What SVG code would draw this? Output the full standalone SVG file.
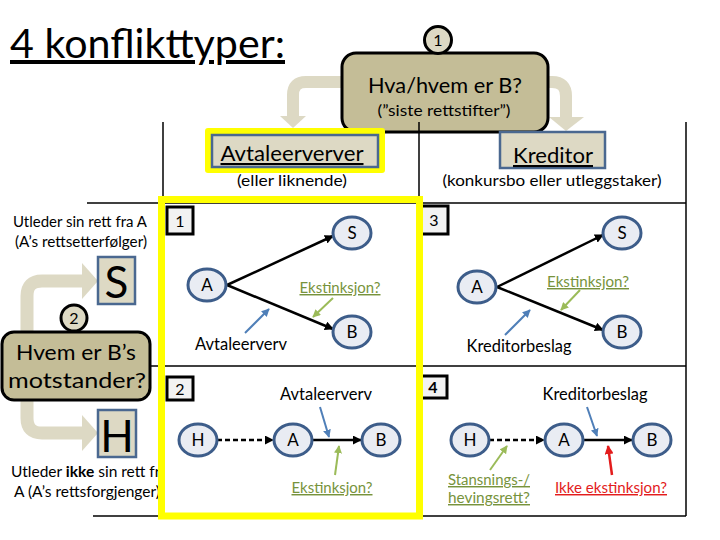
<svg xmlns="http://www.w3.org/2000/svg" width="720" height="540" viewBox="0 0 720 540">
<defs>
<style>
text{font-family:Lato,"Liberation Sans",sans-serif;fill:#000}
.u{text-decoration:underline}
.grid{stroke:#000;stroke-width:1.5;fill:none}
.band{fill:none;stroke:#ddd9c4;stroke-width:12}
.head{fill:#ddd9c4}
.tan{fill:#c4bd97;stroke:#000;stroke-width:3}
.lbox{fill:#ddd9c4;stroke:#4a6890;stroke-width:2.5}
.num{fill:#f2f2f2;stroke:#000;stroke-width:3}
.node{fill:#e9ecf3;stroke:#3d5d8a;stroke-width:3}
.nt{font-size:17px;text-anchor:middle}
.edge{stroke:#000;stroke-width:2.5;fill:none;marker-end:url(#ah)}
.dash{stroke-dasharray:5 3}
.ga{stroke:#9bbb59;stroke-width:2;marker-end:url(#ag)}
.ba{stroke:#4f7fb8;stroke-width:2;marker-end:url(#ab)}
.ra{stroke:#e31c1c;stroke-width:2.5;marker-end:url(#ar)}
.green{fill:#77933c}
.red{fill:#e31c1c}
.s14{font-size:14.5px}
.mid{text-anchor:middle}
</style>
<marker id="ah" viewBox="0 0 10 10" refX="9" refY="5" markerWidth="3.6" markerHeight="3.6" orient="auto"><path d="M0,0L10,5L0,10z" fill="#000"/></marker>
<marker id="ag" viewBox="0 0 10 10" refX="9" refY="5" markerWidth="4" markerHeight="4" orient="auto"><path d="M0,0L10,5L0,10z" fill="#9bbb59"/></marker>
<marker id="ab" viewBox="0 0 10 10" refX="9" refY="5" markerWidth="4" markerHeight="4" orient="auto"><path d="M0,0L10,5L0,10z" fill="#4f7fb8"/></marker>
<marker id="ar" viewBox="0 0 10 10" refX="9" refY="5" markerWidth="3.6" markerHeight="3.6" orient="auto"><path d="M0,0L10,5L0,10z" fill="#e31c1c"/></marker>
<clipPath id="leftclip"><rect x="0" y="0" width="160" height="540"/></clipPath>
</defs>

<g id="title"><text x="10" y="58" font-size="40" textLength="275" lengthAdjust="spacingAndGlyphs" class="u">4 konflikttyper:</text></g>

<g id="bands">
<path class="band" d="M350,82 H306 Q293,82 293,95 V117"/>
<polygon class="head" points="280,116 306,116 293,128"/>
<path class="band" d="M540,82 H552 Q566,82 566,96 V118"/>
<polygon class="head" points="549,117 584,117 566,131"/>
<path class="band" style="stroke-width:13" d="M27,335 V296 Q27,281 42,281 H84"/>
<polygon class="head" points="82,263 98,281 82,299"/>
<path class="band" style="stroke-width:13" d="M27,398 V418 Q27,433 42,433 H84"/>
<polygon class="head" points="82,415 98,433 82,451"/>
</g>

<g id="q-hva">
<rect class="tan" x="342" y="53" width="206" height="79" rx="14"/>
<text x="445" y="93" font-size="21" class="mid" textLength="154" lengthAdjust="spacingAndGlyphs">Hva/hvem er B?</text>
<text x="444" y="116" class="s14 mid" textLength="133" lengthAdjust="spacingAndGlyphs">(”siste rettstifter”)</text>
</g>
<g id="c1">
<circle cx="438" cy="40" r="13.5" fill="#ddd9c4" stroke="#000" stroke-width="3"/>
<text x="438" y="46" font-size="16" class="mid">1</text>
</g>

<g id="avtaleerverver">
<rect x="205" y="128" width="180" height="45" rx="3" fill="#ffff00"/>
<rect class="lbox" x="212" y="135" width="166" height="32"/>
<text x="292" y="161" font-size="21" class="mid u" textLength="143" lengthAdjust="spacingAndGlyphs">Avtaleerverver</text>
<text x="292" y="186" class="s14 mid" textLength="110" lengthAdjust="spacingAndGlyphs">(eller liknende)</text>
</g>
<g id="kreditor">
<rect class="lbox" x="500" y="132" width="105" height="36"/>
<text x="553" y="163" font-size="21" class="mid u" textLength="80" lengthAdjust="spacingAndGlyphs">Kreditor</text>
<text x="552" y="186" class="s14 mid" textLength="219" lengthAdjust="spacingAndGlyphs">(konkursbo eller utleggstaker)</text>
</g>

<g id="left-texts">
<text x="13" y="227" class="s14" textLength="134" lengthAdjust="spacingAndGlyphs">Utleder sin rett fra A</text>
<text x="15" y="247" class="s14" textLength="132" lengthAdjust="spacingAndGlyphs">(A’s rettsetterfølger)</text>
<g clip-path="url(#leftclip)">
<text x="11" y="477" class="s14" textLength="157" lengthAdjust="spacingAndGlyphs">Utleder <tspan font-weight="bold">ikke</tspan> sin rett fra</text>
</g>
<text x="14" y="497" class="s14" textLength="146" lengthAdjust="spacingAndGlyphs">A (A’s rettsforgjenger)</text>
</g>

<g id="hvem">
<rect class="tan" x="2" y="332" width="148" height="68" rx="12"/>
<text x="76" y="360" font-size="21" class="mid" textLength="120" lengthAdjust="spacingAndGlyphs">Hvem er B’s</text>
<text x="77" y="388" font-size="21" class="mid" textLength="138" lengthAdjust="spacingAndGlyphs">motstander?</text>
</g>
<g id="c2">
<circle cx="74" cy="318" r="13" fill="#ddd9c4" stroke="#000" stroke-width="3"/>
<text x="74" y="324" font-size="16" class="mid">2</text>
</g>
<g id="boxS">
<rect class="lbox" x="98" y="257" width="37" height="47"/>
<text x="116.5" y="298" font-size="44" class="mid">S</text>
</g>
<g id="boxH">
<rect class="lbox" x="98" y="410" width="38" height="47"/>
<text x="117" y="452" font-size="44" class="mid">H</text>
</g>

<g id="grid">
<line class="grid" x1="163" y1="122" x2="163" y2="516"/>
<line class="grid" x1="419" y1="122" x2="419" y2="516"/>
<line class="grid" x1="686" y1="122" x2="686" y2="516"/>
<line class="grid" x1="87" y1="203" x2="686" y2="203"/>
<line class="grid" x1="150" y1="366" x2="686" y2="366"/>
<line class="grid" x1="93" y1="516" x2="686" y2="516"/>
</g>

<g id="numbers">
<rect class="num" x="167" y="207" width="26" height="27"/><text x="180" y="227" font-size="16" class="mid">1</text>
<rect class="num" x="167" y="377" width="26" height="23"/><text x="180" y="395" font-size="16" class="mid">2</text>
<rect class="num" x="420" y="206" width="28" height="28"/><text x="434" y="226" font-size="16" class="mid">3</text>
<rect class="num" x="420" y="376" width="27" height="22"/><text x="433" y="393" font-size="16" class="mid" font-weight="bold">4</text>
</g>

<g id="yellow-frame"><rect x="161.5" y="199.5" width="258" height="316.5" fill="none" stroke="#ffff00" stroke-width="7"/></g>

<g id="connectors">
<line class="edge" x1="227" y1="285" x2="333" y2="236"/>
<line class="edge" x1="227" y1="285" x2="333" y2="329"/>
<line class="edge" x1="497" y1="287" x2="603" y2="235"/>
<line class="edge" x1="497" y1="287" x2="603" y2="330"/>
<line class="edge dash" x1="217" y1="440" x2="273" y2="440"/>
<line class="edge" x1="312" y1="440" x2="361" y2="440"/>
<line class="edge dash" x1="489" y1="440" x2="544" y2="440"/>
<line class="edge" x1="583" y1="440" x2="632" y2="440"/>
<line class="ga" x1="333" y1="298" x2="313" y2="317"/>
<line class="ba" x1="245" y1="333" x2="269" y2="309"/>
<line class="ga" x1="580" y1="290" x2="561" y2="310"/>
<line class="ba" x1="505" y1="335" x2="530" y2="310"/>
<line class="ba" x1="320" y1="407" x2="329" y2="437"/>
<line class="ga" x1="335" y1="475" x2="339" y2="446"/>
<line class="ba" x1="587" y1="407" x2="597" y2="436"/>
<line class="ra" x1="612" y1="475" x2="608" y2="446"/>
<line class="ga" x1="490" y1="470" x2="507" y2="446"/>
</g>

<g id="q1">
<g id="q1-S"><ellipse class="node" cx="352" cy="233" rx="19" ry="16"/><text class="nt" x="352" y="239">S</text></g>
<g id="q1-A"><ellipse class="node" cx="207" cy="285" rx="19" ry="16"/><text class="nt" x="207" y="291">A</text></g>
<g id="q1-B"><ellipse class="node" cx="352" cy="332" rx="19" ry="16"/><text class="nt" x="352" y="338">B</text></g>
<text x="340" y="293" class="s14 mid u green" textLength="81" lengthAdjust="spacingAndGlyphs">Ekstinksjon?</text>
<text x="241" y="350" font-size="16.5" class="mid" textLength="92" lengthAdjust="spacingAndGlyphs">Avtaleerverv</text>
</g>

<g id="q3">
<g id="q3-S"><ellipse class="node" cx="622" cy="233" rx="19" ry="16"/><text class="nt" x="622" y="239">S</text></g>
<g id="q3-A"><ellipse class="node" cx="477" cy="287" rx="19" ry="16"/><text class="nt" x="477" y="293">A</text></g>
<g id="q3-B"><ellipse class="node" cx="622" cy="332" rx="19" ry="16"/><text class="nt" x="622" y="338">B</text></g>
<text x="588" y="287" class="s14 mid u green" textLength="82" lengthAdjust="spacingAndGlyphs">Ekstinksjon?</text>
<text x="519" y="352" font-size="16.5" class="mid" textLength="105" lengthAdjust="spacingAndGlyphs">Kreditorbeslag</text>
</g>

<g id="q2">
<g id="q2-H"><ellipse class="node" cx="198" cy="440" rx="19" ry="16"/><text class="nt" x="198" y="446">H</text></g>
<g id="q2-A"><ellipse class="node" cx="293" cy="440" rx="19" ry="16"/><text class="nt" x="293" y="446">A</text></g>
<g id="q2-B"><ellipse class="node" cx="381" cy="440" rx="19" ry="16"/><text class="nt" x="381" y="446">B</text></g>
<text x="326" y="400" font-size="16.5" class="mid" textLength="92" lengthAdjust="spacingAndGlyphs">Avtaleerverv</text>
<text x="332" y="493" class="s14 mid u green" textLength="81" lengthAdjust="spacingAndGlyphs">Ekstinksjon?</text>
</g>

<g id="q4">
<g id="q4-H"><ellipse class="node" cx="470" cy="440" rx="19" ry="16"/><text class="nt" x="470" y="446">H</text></g>
<g id="q4-A"><ellipse class="node" cx="564" cy="440" rx="19" ry="16"/><text class="nt" x="564" y="446">A</text></g>
<g id="q4-B"><ellipse class="node" cx="652" cy="440" rx="19" ry="16"/><text class="nt" x="652" y="446">B</text></g>
<text x="595" y="400" font-size="16.5" class="mid" textLength="105" lengthAdjust="spacingAndGlyphs">Kreditorbeslag</text>
<text x="489" y="485" class="s14 mid u green" textLength="82" lengthAdjust="spacingAndGlyphs">Stansnings-/</text>
<text x="489" y="503" class="s14 mid u green" textLength="82" lengthAdjust="spacingAndGlyphs">hevingsrett?</text>
<text x="611" y="493" class="s14 mid u red" textLength="112" lengthAdjust="spacingAndGlyphs">Ikke ekstinksjon?</text>
</g>
</svg>
